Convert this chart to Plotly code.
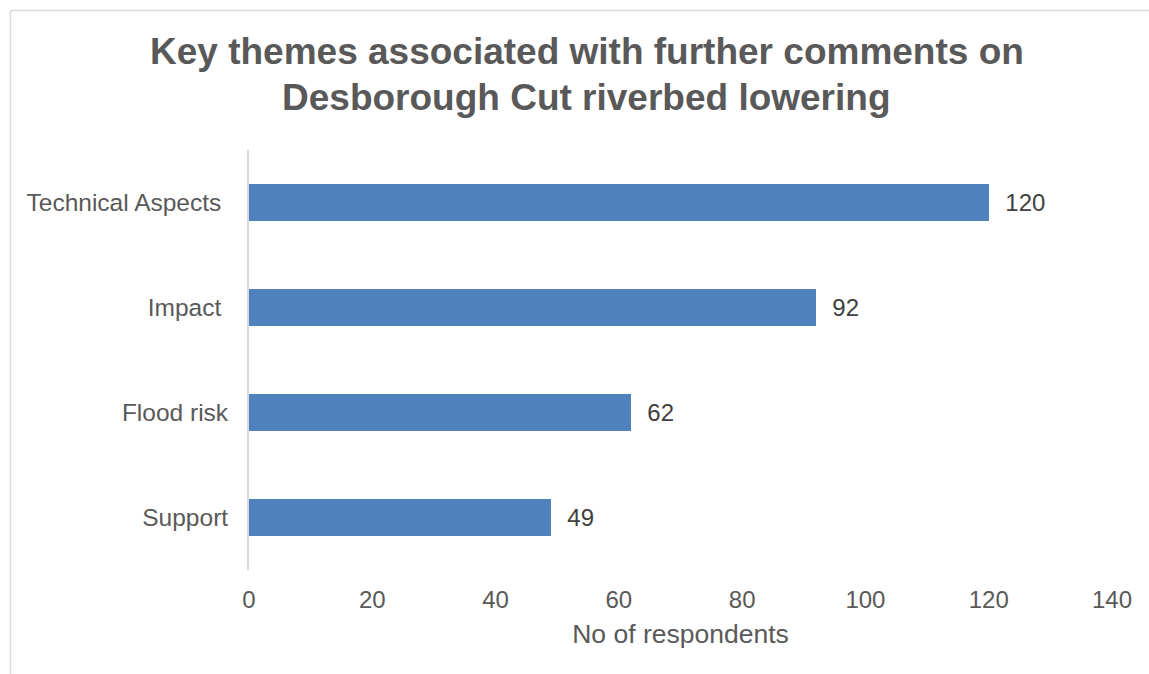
import plotly.graph_objects as go

# Survey themes and respondent counts
categories = ["Technical Aspects ", "Impact ", "Flood risk", "Support"]
respondents = [120, 92, 62, 49]
x_ticks = [0, 20, 40, 60, 80, 100, 120, 140]

title_lines = ["Key themes associated with further comments on",
               "Desborough Cut riverbed lowering"]

W, H = 1149, 674
L, R, T, B = 249, 37, 150, 104
plot_w = W - L - R
plot_h = H - T - B


def px_to_paper(px, py):
    return (px - L) / plot_w, (H - B - py) / plot_h


fig = go.Figure(
    go.Bar(
        y=categories,
        x=respondents,
        orientation="h",
        width=0.343,
        marker=dict(color="#4F81BD", line=dict(width=0)),
        texttemplate="  %{x}",
        textposition="outside",
        cliponaxis=False,
        textfont=dict(family="Liberation Sans, Arial", size=24, color="#404040"),
        hoverinfo="skip",
    )
)

annotations = []
for line, cy in zip(title_lines, [52, 97]):
    ax, ay = px_to_paper(586.5, cy)
    annotations.append(dict(
        text=f"<b>{line}</b>", x=ax, y=ay, xref="paper", yref="paper",
        xanchor="center", yanchor="middle", showarrow=False,
        font=dict(family="Liberation Sans, Arial", size=37, color="#595959"),
    ))

# Chart-area outline (left and top edges)
bx0, by0 = px_to_paper(10.5, 10.5)
bx1, by1 = px_to_paper(W + 5, H + 5)
shapes = [
    dict(type="line", xref="paper", yref="paper", x0=bx0, x1=bx0, y0=by0, y1=by1,
         line=dict(color="#D9D9D9", width=1.5)),
    dict(type="line", xref="paper", yref="paper", x0=bx0, x1=bx1, y0=by0, y1=by0,
         line=dict(color="#D9D9D9", width=1.5)),
]

fig.update_layout(
    width=W, height=H,
    margin=dict(l=L, r=R, t=T, b=B, pad=0),
    paper_bgcolor="white", plot_bgcolor="white",
    showlegend=False,
    bargap=0,
    annotations=annotations,
    shapes=shapes,
    font=dict(family="Liberation Sans, Arial", color="#595959"),
    xaxis=dict(
        range=[0, 140], tickvals=x_ticks, showgrid=False, zeroline=False,
        showline=False, ticks="", ticklabelstandoff=13,
        tickfont=dict(size=24, color="#595959"),
        title=dict(text="No of respondents", standoff=12,
                   font=dict(size=26.5, color="#595959")),
        fixedrange=True,
    ),
    yaxis=dict(
        categoryorder="array", categoryarray=categories[::-1],
        showgrid=False, zeroline=False,
        showline=True, linecolor="#D9D9D9", linewidth=2,
        ticks="", ticklabelstandoff=14,
        tickfont=dict(size=24.5, color="#595959"),
        fixedrange=True,
    ),
)

fig.write_html("out.html")
